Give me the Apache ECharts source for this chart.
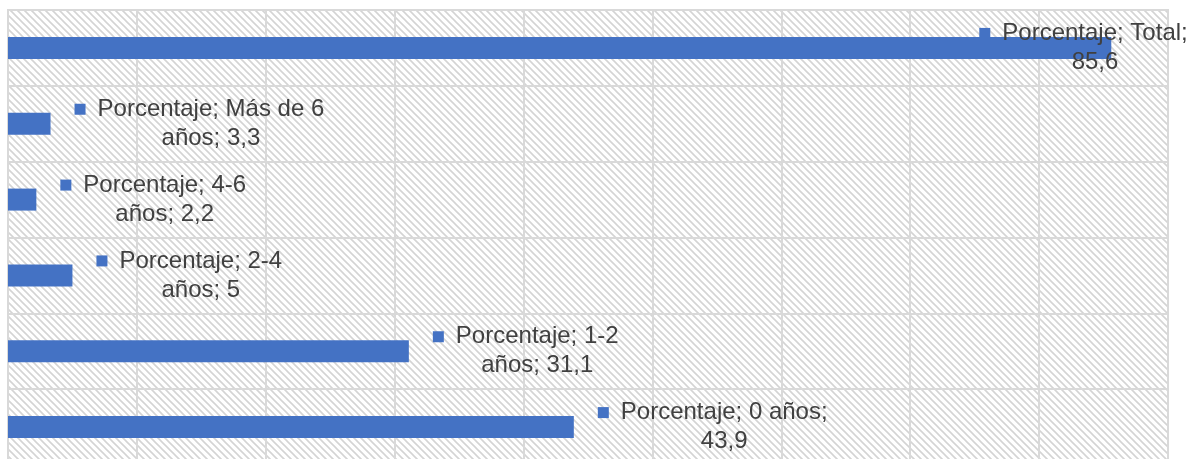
<!DOCTYPE html>
<html>
<head>
<meta charset="utf-8">
<script src="https://cdn.jsdelivr.net/npm/echarts@6/dist/echarts.min.js"></script>
<style>
  html, body { margin: 0; padding: 0; background: #fff; }
  #main { width: 1197px; height: 459px; }
</style>
</head>
<body>
<div id="main"></div>
<script>
// bottom to top, as drawn
const categories = ['0 años', '1-2 años', '2-4 años', '4-6 años', 'Más de 6 años', 'Total'];
const values = [43.9, 31.1, 5, 2.2, 3.3, 85.6];
// how many words of each label sit on the first line
const firstLineWords = [3, 2, 2, 2, 4, 2];

const BLUE = '#4472C4';
const GRID = '#d9d9d9';

// diagonal hatch for the plot background
function hatch() {
    const n = 7;
    const c = document.createElement('canvas');
    c.width = n;
    c.height = n;
    const ctx = c.getContext('2d');
    ctx.fillStyle = '#ffffff';
    ctx.fillRect(0, 0, n, n);
    ctx.strokeStyle = '#d4d4d4';
    ctx.lineWidth = 1.6;
    ctx.beginPath();
    ctx.moveTo(-1, -1); ctx.lineTo(n + 1, n + 1);
    ctx.moveTo(-n - 1, -1); ctx.lineTo(1, n + 1);
    ctx.moveTo(n - 1, -1); ctx.lineTo(2 * n + 1, n + 1);
    ctx.stroke();
    return c;
}

function labelText(name, value) {
    const words = ('Porcentaje; ' + name + '; ' + String(value).replace('.', ',')).split(' ');
    const i = categories.indexOf(name);
    const l1 = words.slice(0, firstLineWords[i]).join(' ');
    const l2 = words.slice(firstLineWords[i]).join(' ');
    return '{m|}{g|}{t|' + l1 + '}\n{s|}{g|}{t|' + l2 + '}';
}

const chart = echarts.init(document.getElementById('main'));

const data = values.map(function (v, i) {
    const item = { value: v };
    if (categories[i] === 'Total') {
        item.label = { offset: [-156, 0] };
    }
    return item;
});

chart.setOption({
    animation: false,
    backgroundColor: '#ffffff',
    textStyle: { fontFamily: 'Liberation Sans' },
    grid: {
        left: 8, right: 29, top: 10, bottom: -6,
        show: true,
        backgroundColor: { image: hatch(), repeat: 'repeat' },
        borderColor: GRID,
        borderWidth: 2,
        outerBoundsMode: 'none'
    },
    xAxis: {
        type: 'value',
        min: 0, max: 90, interval: 10,
        axisLabel: { show: false },
        axisLine: { show: false },
        axisTick: { show: false },
        splitLine: { show: true, lineStyle: { color: GRID, width: 2 } }
    },
    yAxis: {
        type: 'category',
        data: categories,
        axisLabel: { show: false },
        axisTick: { show: false },
        axisLine: { show: true, lineStyle: { color: GRID, width: 2 } },
        splitLine: { show: true, lineStyle: { color: GRID, width: 2 } }
    },
    series: [{
        type: 'bar',
        data: data,
        barWidth: 22,
        itemStyle: { color: BLUE },
        label: {
            show: true,
            position: 'right',
            distance: 24,
            formatter: function (p) { return labelText(p.name, p.value); },
            rich: {
                m: { width: 11, height: 11, backgroundColor: BLUE, align: 'center' },
                s: { width: 11, height: 11, align: 'center' },
                g: { width: 12, align: 'center' },
                t: { fontSize: 24, lineHeight: 29, color: '#404040', fontFamily: 'Liberation Sans', align: 'center' }
            }
        }
    }]
});
</script>
</body>
</html>
